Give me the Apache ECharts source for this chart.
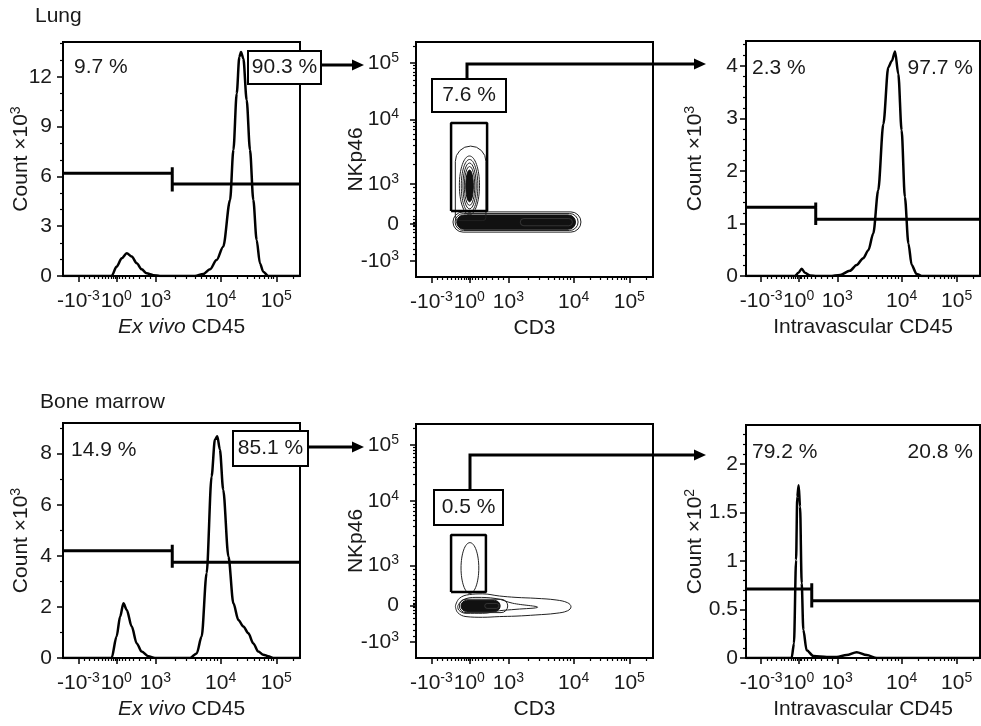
<!DOCTYPE html>
<html>
<head>
<meta charset="utf-8">
<title>Lung / Bone marrow gating</title>
<script src="https://cdn.jsdelivr.net/npm/echarts@6/dist/echarts.min.js"></script>
<style>
    html, body { margin: 0; padding: 0; background: #fff; }
    #chart { width: 981px; height: 726px; }
</style>
</head>
<body>
<div id="chart"></div>
<script>
// every fluorescence axis is drawn on a 0-100 display channel scale
var xTicks = [6.5, 22.5, 39, 66.5, 90];
var xTickBase = ['-10', '10', '10', '10', '10'];
var xTickExp = ['-3', '0', '3', '4', '5'];
var xMinorTicks = [9, 11, 13, 15, 16.5, 18, 19.3, 20.3, 21.2, 21.9, 23.1, 23.8, 24.8, 26.1, 27.8, 29.8, 32.1, 34.6, 37,
    47.3, 52.1, 55.6, 58.2, 60.4, 62.2, 63.8, 65.2, 73.6, 77.7, 80.6, 82.9, 84.8, 86.4, 87.7, 88.9, 97.1];

var nkTicks = [6.8, 22.5, 39.5, 67, 91];
var nkTickBase = ['-10', '0', '10', '10', '10'];
var nkTickExp = ['3', '', '3', '4', '5'];
var nkMinorTicks = [9.5, 12, 14.5, 17, 19, 20.5, 21.5, 22, 23, 23.5, 24.5, 26, 28.5, 31, 33.5, 36, 38,
    47.8, 52.6, 56.1, 58.7, 60.9, 62.7, 64.3, 65.7, 74.2, 78.4, 81.4, 83.8, 85.7, 87.3, 88.7, 89.9, 98.2];

// count axes
var lungExVivoCountTicks = [0, 3, 6, 9, 12];
var lungExVivoCountMinor = [1, 2, 4, 5, 7, 8, 10, 11, 13, 14];
var lungIvCountTicks = [0, 1, 2, 3, 4];
var lungIvCountMinor = [0.2, 0.4, 0.6, 0.8, 1.2, 1.4, 1.6, 1.8, 2.2, 2.4, 2.6, 2.8, 3.2, 3.4, 3.6, 3.8, 4.2, 4.4];
var bmExVivoCountTicks = [0, 2, 4, 6, 8];
var bmExVivoCountMinor = [1, 3, 5, 7, 9];
var bmIvCountTicks = [0, 0.5, 1, 1.5, 2];
var bmIvCountMinor = [0.1, 0.2, 0.3, 0.4, 0.6, 0.7, 0.8, 0.9, 1.1, 1.2, 1.3, 1.4, 1.6, 1.7, 1.8, 1.9, 2.1, 2.2, 2.3];
var countMax = [14.1, 4.47, 9.2, 2.4];

// histograms [channel, count]
var lungExVivo = [[0, 0], [20.5, 0], [22.6, 0.56], [24.8, 1.07], [26.9, 1.37], [29, 1.17], [31.1, 0.77], [33.2, 0.4],
    [35.3, 0.16], [38.1, 0.05], [40.9, 0], [55.7, 0], [59.2, 0.12], [62, 0.4], [64.8, 0.96], [67.6, 1.77], [70.5, 4.58],
    [71.9, 7.6], [73.3, 11.0], [74.4, 13.2], [75.1, 13.5], [76.1, 13.1], [77.5, 10.6], [78.9, 7.6], [80.3, 4.58],
    [81.7, 2.17], [83.1, 0.76], [84.5, 0.26], [86.6, 0], [100, 0]];
var lungIv = [[0, 0], [20.9, 0], [22.4, 0.06], [23.8, 0.14], [25.2, 0.06], [27.4, 0.01], [30.2, 0], [35.9, 0],
    [40.2, 0.02], [44.4, 0.1], [47.3, 0.21], [50.1, 0.34], [52.3, 0.49], [54.4, 0.81], [56.5, 1.63], [58.7, 2.89],
    [60.8, 3.97], [62.3, 4.09], [63.7, 4.27], [65.1, 3.84], [66.5, 2.77], [67.9, 1.5], [69.4, 0.62], [70.8, 0.21],
    [72.9, 0.04], [75.1, 0], [100, 0]];
var bmExVivo = [[0, 0], [20.5, 0], [22.6, 0.84], [24.1, 1.62], [25.5, 2.14], [26.9, 1.88], [29, 1.23], [31.1, 0.57],
    [33.2, 0.25], [36, 0.07], [38.8, 0], [53.6, 0], [56.4, 0.18], [58.5, 0.84], [60.6, 3.32], [62.7, 7.11], [64.1, 8.55],
    [65.1, 8.68], [66.2, 8.16], [67.6, 6.59], [69.8, 3.97], [71.9, 2.14], [74, 1.49], [76.1, 1.23], [78.2, 0.97],
    [80.3, 0.57], [82.4, 0.25], [84.5, 0.13], [86.6, 0.07], [88.7, 0], [100, 0]];
var bmIv = [[0, 0], [19.5, 0], [20.5, 0.15], [21.4, 1.01], [21.9, 1.66], [22.5, 1.78], [23.1, 1.56], [23.8, 0.77],
    [24.5, 0.29], [25.9, 0.08], [28.8, 0.02], [34.5, 0.01], [38.8, 0.01], [43, 0.03], [47.3, 0.06], [51.6, 0.03],
    [55.9, 0], [100, 0]];

// interval gates (left bar, split, right bar)
var lungExVivoGate = [[0, 6.19], [46.1, 6.19], [46.1, 6.56], [46.1, 5.09], [46.1, 5.55], [100, 5.55]];
var lungIvGate = [[0, 1.31], [29.8, 1.31], [29.8, 1.4], [29.8, 0.97], [29.8, 1.08], [100, 1.08]];
var bmExVivoGate = [[0, 4.2], [46.1, 4.2], [46.1, 4.43], [46.1, 3.53], [46.1, 3.75], [100, 3.75]];
var bmIvGate = [[0, 0.71], [28.1, 0.71], [28.1, 0.77], [28.1, 0.52], [28.1, 0.59], [100, 0.59]];

// NK gates on CD3 / NKp46
var lungNkGate = [[14.8, 28.1], [30, 28.1], [30, 65.5], [14.8, 65.5], [14.8, 28.1]];
var bmNkGate = [[14.8, 28.2], [29.5, 28.2], [29.5, 52.6], [14.8, 52.6], [14.8, 28.2]];

// contour levels [x1, x2, y1, y2, kind] kind: 0 ring, 1 dense core, 2 oval, 3 dense oval, 4 open top ring, 5 light ring
var lungContours = [[15.6, 69.6, 19.1, 27.7, 0], [16.5, 68.4, 19.8, 27.0, 0], [17.2, 67.3, 20.3, 26.4, 1],
    [44, 66, 21.8, 24.9, 5], [16.6, 29.5, 24, 55.7, 4], [18.3, 26.8, 26.5, 51.5, 2],
    [19.1, 26.1, 27.5, 50, 2], [19.8, 25.4, 29, 48.5, 2], [20.4, 24.8, 30.5, 47, 2], [21, 24.2, 32, 45.5, 3]];
var bmContours = [[18.3, 38.7, 19.4, 25.1, 0], [19, 35.5, 19.9, 24.6, 1], [29, 35, 21.2, 23.3, 5],
    [19, 26.5, 27.6, 49.3, 2]];
var bmOuterContour = [[16.6, 22.2], [18.3, 25.5], [22.5, 27.1], [28.1, 27.4], [35.2, 26.5], [42.2, 25.9], [50.6, 25.5],
    [59.1, 24.8], [64, 23.6], [65.4, 21.9], [64, 20.2], [59.1, 19.1], [50.6, 18.4], [42.2, 17.9], [35.2, 17.7],
    [28.1, 17.4], [21.1, 17.7], [17.6, 19.4], [16.6, 22.2]];
var bmTongueContour = [[17.6, 22.2], [19.7, 24.8], [25.3, 25.9], [33.8, 25.4], [40.8, 23.4], [51.3, 21.7], [42.2, 20.8],
    [35.2, 20.2], [28.1, 19.1], [21.1, 19.1], [18, 20.5], [17.6, 22.2]];

// percentages shown on the plots
var lungPercents = ['9.7 %', '90.3 %', '7.6 %', '2.3 %', '97.7 %'];
var bmPercents = ['14.9 %', '85.1 %', '0.5 %', '79.2 %', '20.8 %'];
var tissueNames = ['Lung', 'Bone marrow'];

var fontFamily = '"Liberation Sans", Arial, Helvetica, sans-serif';
var ink = '#1a1a1a';

function GatingFigure(dom) {
    this.chart = echarts.init(dom);
    this.init();
}
GatingFigure.prototype = {
    constructor: GatingFigure,
    boxes: [
        {left: 63, top: 42, width: 237, height: 234},
        {left: 416, top: 42, width: 237, height: 235},
        {left: 746, top: 41, width: 234, height: 235},
        {left: 63, top: 423, width: 237, height: 235},
        {left: 416, top: 424, width: 237, height: 234},
        {left: 746, top: 425, width: 234, height: 233}
    ],
    init: function () {
        var that = this;
        var option = {
            animation: false,
            backgroundColor: '#fff',
            grid: that.grids(),
            xAxis: that.xAxes(),
            yAxis: that.yAxes(),
            series: that.histSeries().concat(that.contourSeries()),
            graphic: that.annotations()
        };
        that.chart.setOption(option);
    },
    rich: function () {
        return {
            n: {fontSize: 21, lineHeight: 24, fontFamily: fontFamily, color: ink},
            s: {fontSize: 14, lineHeight: 14, verticalAlign: 'top', fontFamily: fontFamily, color: ink},
            i: {fontSize: 21, lineHeight: 24, fontStyle: 'italic', fontFamily: fontFamily, color: ink}
        };
    },
    grids: function () {
        return this.boxes.map(function (b) {
            return {
                left: b.left, top: b.top, width: b.width, height: b.height,
                show: true, borderColor: '#000', borderWidth: 2, backgroundColor: 'transparent',
                containLabel: false, outerBoundsMode: 'none'
            };
        });
    },
    // major axis with labels, plus a bare axis for the short ticks
    axisPair: function (gridIndex, dim, cfg) {
        var that = this;
        var major = {
            gridIndex: gridIndex, type: 'value', min: 0, max: cfg.max,
            position: dim === 'x' ? 'bottom' : 'left',
            axisLine: {show: true, onZero: false, lineStyle: {color: '#000', width: 2}},
            axisTick: {show: true, customValues: cfg.ticks, length: 6, lineStyle: {color: '#000', width: 1.5}},
            axisLabel: {
                customValues: cfg.ticks, margin: cfg.margin, rich: that.rich(),
                formatter: function (v) {
                    var i = cfg.ticks.indexOf(v);
                    if (i < 0) return '';
                    var txt = '{n|' + cfg.base[i] + '}';
                    if (cfg.exp && cfg.exp[i]) txt += '{s|' + cfg.exp[i] + '}';
                    return txt;
                }
            },
            splitLine: {show: false},
            name: cfg.name, nameLocation: 'middle', nameGap: cfg.nameGap, nameMoveOverlap: false,
            nameTextStyle: {fontSize: 21, lineHeight: 24, fontFamily: fontFamily, color: ink, rich: that.rich()}
        };
        var minor = {
            gridIndex: gridIndex, type: 'value', min: 0, max: cfg.max,
            position: dim === 'x' ? 'bottom' : 'left',
            axisLine: {show: false, onZero: false},
            axisTick: {show: true, customValues: cfg.minor, length: 3, lineStyle: {color: '#000', width: 1.2}},
            axisLabel: {show: false},
            splitLine: {show: false}
        };
        return [major, minor];
    },
    xAxes: function () {
        var that = this;
        var names = ['{i|Ex vivo} CD45', 'CD3', 'Intravascular CD45', '{i|Ex vivo} CD45', 'CD3', 'Intravascular CD45'];
        var list = [];
        for (var i = 0; i < 6; i++) {
            list = list.concat(that.axisPair(i, 'x', {
                max: 100, ticks: xTicks, base: xTickBase, exp: xTickExp, minor: xMinorTicks,
                margin: 13, name: names[i], nameGap: 39
            }));
        }
        return list;
    },
    yAxes: function () {
        var that = this;
        var countTicks = [lungExVivoCountTicks, lungIvCountTicks, bmExVivoCountTicks, bmIvCountTicks];
        var countMinor = [lungExVivoCountMinor, lungIvCountMinor, bmExVivoCountMinor, bmIvCountMinor];
        var countNames = ['Count ×10{s|3}', 'Count ×10{s|3}', 'Count ×10{s|3}', 'Count ×10{s|2}'];
        var list = [];
        var h = 0;
        for (var i = 0; i < 6; i++) {
            if (i % 3 === 1) {
                list = list.concat(that.axisPair(i, 'y', {
                    max: 100, ticks: nkTicks, base: nkTickBase, exp: nkTickExp, minor: nkMinorTicks,
                    margin: 17, name: 'NKp46', nameGap: 48
                }));
            } else {
                var right = i % 3 === 2;
                list = list.concat(that.axisPair(i, 'y', {
                    max: countMax[h], ticks: countTicks[h], base: countTicks[h].map(String), minor: countMinor[h],
                    margin: right ? 8 : 11, name: countNames[h], nameGap: right ? 39 : 30
                }));
                h++;
            }
        }
        return list;
    },
    // histogram curves and their interval gates
    histSeries: function () {
        var hists = [lungExVivo, lungIv, bmExVivo, bmIv];
        var gates = [lungExVivoGate, lungIvGate, bmExVivoGate, bmIvGate];
        var panels = [0, 2, 3, 5];
        var list = [];
        panels.forEach(function (p, k) {
            list.push({
                type: 'line', xAxisIndex: p * 2, yAxisIndex: p * 2, data: hists[k],
                showSymbol: false, smooth: 0.3, smoothMonotone: 'x',
                lineStyle: {color: '#000', width: 2.5}, z: 3
            });
            list.push({
                type: 'line', xAxisIndex: p * 2, yAxisIndex: p * 2, data: gates[k],
                showSymbol: false, lineStyle: {color: '#000', width: 3}, z: 4
            });
        });
        return list;
    },
    // contour plots of CD3 vs NKp46
    contourSeries: function () {
        var renderItem = function (params, api) {
            var p1 = api.coord([api.value(0), api.value(2)]);
            var p2 = api.coord([api.value(1), api.value(3)]);
            var kind = api.value(4);
            var x = p1[0], y = p2[1], w = p2[0] - p1[0], h = p1[1] - p2[1];
            var style = {fill: 'none', stroke: '#222', lineWidth: 1};
            if (kind === 1 || kind === 3) style = {fill: '#111', stroke: '#111', lineWidth: 1};
            if (kind === 5) style = {fill: 'none', stroke: '#444', lineWidth: 0.7};
            if (kind === 2 || kind === 3) {
                return {type: 'ellipse', shape: {cx: x + w / 2, cy: y + h / 2, rx: w / 2, ry: h / 2}, style: style};
            }
            var r = Math.min(w, h) / 2;
            if (kind === 4) r = [w / 2, w / 2, 3, 3];
            return {type: 'rect', shape: {x: x, y: y, width: w, height: h, r: r}, style: style};
        };
        var list = [];
        [[1, lungContours, lungNkGate], [4, bmContours, bmNkGate]].forEach(function (c) {
            var ax = c[0] * 2;
            list.push({
                type: 'custom', xAxisIndex: ax, yAxisIndex: ax, data: c[1],
                encode: {x: [0, 1], y: [2, 3]}, renderItem: renderItem, z: 2
            });
            list.push({
                type: 'line', xAxisIndex: ax, yAxisIndex: ax, data: c[2],
                showSymbol: false, lineStyle: {color: '#000', width: 2.5}, z: 4
            });
        });
        [bmOuterContour, bmTongueContour].forEach(function (d) {
            list.push({
                type: 'line', xAxisIndex: 8, yAxisIndex: 8, data: d, smooth: 0.4,
                showSymbol: false, lineStyle: {color: '#222', width: 1}, z: 2
            });
        });
        return list;
    },
    text: function (str, x, y, align) {
        return {
            type: 'text', z: 101,
            style: {
                text: str, x: x, y: y, fill: ink, font: '21px ' + fontFamily,
                align: align, textAlign: align, verticalAlign: 'middle', textVerticalAlign: 'middle'
            }
        };
    },
    boxText: function (str, x, y, w, h) {
        return [
            {type: 'rect', z: 100, shape: {x: x, y: y, width: w, height: h},
                style: {fill: '#fff', stroke: '#000', lineWidth: 2}},
            this.text(str, x + w / 2, y + h / 2, 'center')
        ];
    },
    arrow: function (points) {
        var end = points[points.length - 1];
        var line = points.slice(0, -1).concat([[end[0] - 10, end[1]]]);
        return [
            {type: 'polyline', z: 100, shape: {points: line}, style: {stroke: '#000', lineWidth: 3, fill: 'none'}},
            {type: 'polygon', z: 100, shape: {points: [[end[0] - 12, end[1] - 5.5], [end[0], end[1]], [end[0] - 12, end[1] + 5.5]]},
                style: {fill: '#000'}}
        ];
    },
    annotations: function () {
        var that = this;
        var g = [];
        g.push(that.text(tissueNames[0], 35, 16, 'left'));
        g.push(that.text(tissueNames[1], 40, 402, 'left'));
        // lung row
        g.push(that.text(lungPercents[0], 74, 67, 'left'));
        g = g.concat(that.arrow([[321, 65], [364, 65]]));
        g = g.concat(that.boxText(lungPercents[1], 248, 51, 73, 33));
        g = g.concat(that.arrow([[467, 79], [467, 64], [706, 64]]));
        g = g.concat(that.boxText(lungPercents[2], 432, 79, 74, 33));
        g.push(that.text(lungPercents[3], 752, 68, 'left'));
        g.push(that.text(lungPercents[4], 973, 68, 'right'));
        // bone marrow row
        g.push(that.text(bmPercents[0], 71, 450, 'left'));
        g = g.concat(that.arrow([[308, 447], [364, 447]]));
        g = g.concat(that.boxText(bmPercents[1], 233, 431, 75, 35));
        g = g.concat(that.arrow([[470, 490], [470, 455], [706, 455]]));
        g = g.concat(that.boxText(bmPercents[2], 434, 490, 69, 35));
        g.push(that.text(bmPercents[3], 752, 452, 'left'));
        g.push(that.text(bmPercents[4], 973, 452, 'right'));
        return g;
    }
};

var GatingFigureIns = new GatingFigure(document.getElementById('chart'));
</script>
</body>
</html>
